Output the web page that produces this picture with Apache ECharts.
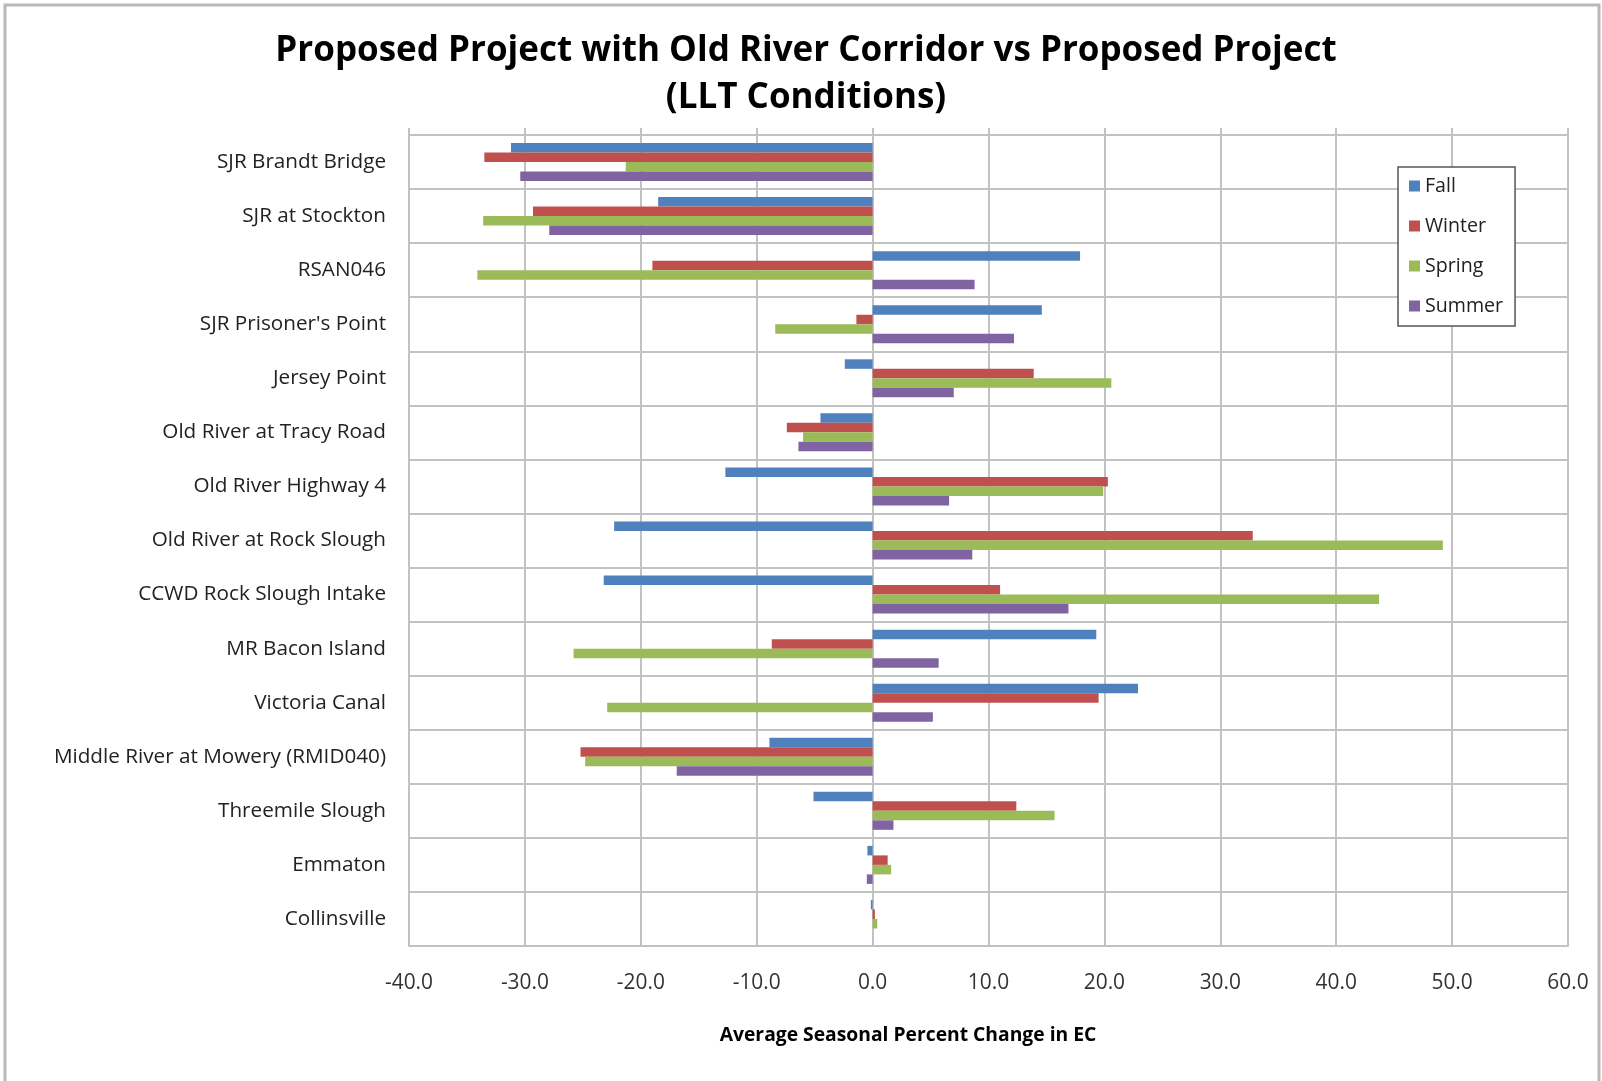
<!DOCTYPE html>
<html><head><meta charset="utf-8">
<script src="https://cdn.jsdelivr.net/npm/echarts@6/dist/echarts.min.js"></script>
<style>html,body{margin:0;padding:0;background:#fff}#c{width:1602px;height:1081px}</style>
</head><body><div id="c"></div>
<script>
const categories = ["SJR Brandt Bridge","SJR at Stockton","RSAN046","SJR Prisoner's Point","Jersey Point","Old River at Tracy Road","Old River Highway 4","Old River at Rock Slough","CCWD Rock Slough Intake","MR Bacon Island","Victoria Canal","Middle River at Mowery (RMID040)","Threemile Slough","Emmaton","Collinsville"];
const fall   = [-31.2,-18.5,17.9,14.6,-2.4,-4.5,-12.7,-22.3,-23.2,19.3,22.9,-8.9,-5.1,-0.45,-0.15];
const winter = [-33.5,-29.3,-19.0,-1.4,13.9,-7.4,20.3,32.8,11.0,-8.7,19.5,-25.2,12.4,1.3,0.2];
const spring = [-21.3,-33.6,-34.1,-8.4,20.6,-6.0,19.9,49.2,43.7,-25.8,-22.9,-24.8,15.7,1.6,0.4];
const summer = [-30.4,-27.9,8.8,12.2,7.0,-6.4,6.6,8.6,16.9,5.7,5.2,-16.9,1.8,-0.5,0.0];
const seriesNames = ["Fall","Winter","Spring","Summer"];
const xTicks = { min: -40, max: 60, interval: 10 };
const titleText = 'Proposed Project with Old River Corridor vs Proposed Project\n(LLT Conditions)';
const xAxisName = 'Average Seasonal Percent Change in EC';
const colors = ["#4F81BD","#C0504D","#9BBB59","#8064A2"];

const family = "'Open Sans', Lato, sans-serif";
const cv = document.createElement('canvas').getContext('2d');
function fit(text, weight, target) {
  cv.font = weight + ' 100px ' + family;
  return Math.round(1000 * target / cv.measureText(text).width) / 10;
}
const titleSize = fit('Proposed Project with Old River Corridor vs Proposed Project', 'bold', 1062);
const catSize = fit('Middle River at Mowery (RMID040)', 'normal', 333);
const legSize = fit('Summer', 'normal', 78);
const nameSize = fit(xAxisName, 'bold', 376);
const tickSize = fit('-40.0', 'normal', 48);

const chart = echarts.init(document.getElementById('c'));
const mk = (name, data, i) => ({
  name, type: 'bar', data, xAxisIndex: 0, barWidth: 9.5, barGap: '0%', barCategoryGap: '30%',
  itemStyle: { color: colors[i] }, emphasis: { disabled: true }
});
const gridColor = '#c2c2c2';
chart.setOption({
  animation: false,
  backgroundColor: '#fff',
  title: [
    { text: titleText, left: 801, top: 23, textAlign: 'center',
      textStyle: { fontFamily: family, fontWeight: 'bold', fontSize: titleSize, lineHeight: 47, color: '#000' } },
    { text: xAxisName, left: 903, top: 1034 - 5 - nameSize / 2 + 2, textAlign: 'center',
      textStyle: { fontFamily: family, fontWeight: 'bold', fontSize: nameSize, lineHeight: nameSize, color: '#000' } }
  ],
  legend: {
    orient: 'vertical', left: 1398, top: 167, padding: [9, 12, 10, 11],
    itemWidth: 11, itemHeight: 11, itemGap: 20, icon: 'rect',
    borderColor: '#555', borderWidth: 1.5, backgroundColor: '#fff',
    textStyle: { fontFamily: family, fontSize: legSize, lineHeight: 20, color: '#222' },
    data: seriesNames
  },
  grid: { left: 409, right: 34, top: 135, bottom: 135, containLabel: false },
  xAxis: [{
    type: 'value', min: xTicks.min, max: xTicks.max, interval: xTicks.interval, position: 'bottom',
    axisLabel: { formatter: v => v.toFixed(1), fontFamily: family, fontSize: tickSize, color: '#333', margin: 27 },
    axisLine: { show: true, lineStyle: { color: gridColor, width: 2 } },
    axisTick: { show: false },
    splitLine: { show: true, lineStyle: { color: gridColor, width: 2 } }
  }, {
    type: 'value', min: xTicks.min, max: xTicks.max, interval: xTicks.interval, position: 'top',
    axisLabel: { show: false },
    axisLine: { show: false },
    axisTick: { show: true, length: 7, lineStyle: { color: gridColor, width: 2 } },
    splitLine: { show: false }
  }],
  yAxis: {
    type: 'category', data: categories, inverse: true,
    axisLabel: { fontFamily: family, fontSize: catSize, color: '#222', margin: 23 },
    axisLine: { show: true, lineStyle: { color: gridColor, width: 2 } },
    axisTick: { show: false },
    splitLine: { show: true, lineStyle: { color: gridColor, width: 2 } }
  },
  graphic: [
    { type: 'rect', shape: { x: 5, y: 5, width: 1594, height: 1200 }, silent: true,
      style: { fill: 'none', stroke: '#b8b8b8', lineWidth: 3 } }
  ],
  series: [mk('Fall', fall, 0), mk('Winter', winter, 1), mk('Spring', spring, 2), mk('Summer', summer, 3)]
});
</script></body></html>
